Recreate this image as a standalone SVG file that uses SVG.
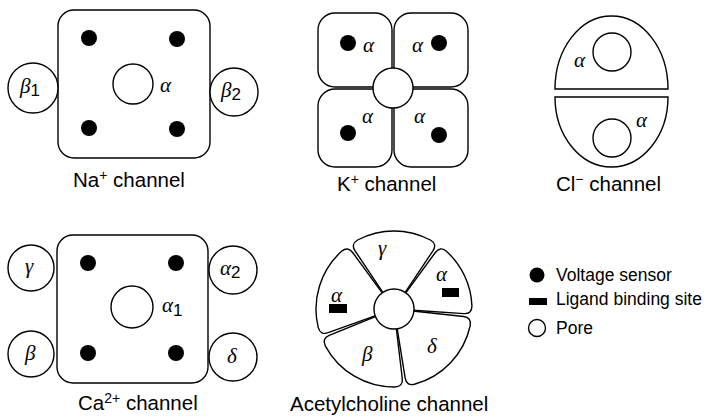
<svg xmlns="http://www.w3.org/2000/svg" width="712" height="419" viewBox="0 0 712 419">
<style>
.o{fill:#fff;stroke:#000;stroke-width:1.4}
.d{fill:#000}
.t{font-family:"Liberation Sans",Arial,sans-serif;font-size:20.5px;fill:#000}
.g{font-family:"Liberation Serif","Times New Roman",serif;font-style:italic;font-size:21px;fill:#000}
.s{font-family:"Liberation Sans",Arial,sans-serif;font-style:normal;font-size:17px}
.sup{font-size:14px}
.lg{font-family:"Liberation Sans",Arial,sans-serif;font-size:17.5px;fill:#000}
</style>
<rect width="712" height="419" fill="#fff"/>

<g id="na-channel">
<rect class="o" x="58" y="10" width="152" height="148" rx="16"/>
<circle class="o" cx="33" cy="88" r="25"/>
<circle class="o" cx="234" cy="92" r="24"/>
<circle class="d" cx="89" cy="38" r="8"/>
<circle class="d" cx="177" cy="39" r="8"/>
<circle class="d" cx="89" cy="128" r="8"/>
<circle class="d" cx="177" cy="129" r="8"/>
<circle class="o" cx="133" cy="84" r="20"/>
<text class="g" x="160" y="92">α</text>
<text class="g" x="20" y="93">β<tspan class="s" dy="3">1</tspan></text>
<text class="g" x="221" y="97">β<tspan class="s" dy="3">2</tspan></text>
<text class="t" x="73" y="187">Na<tspan class="sup" dy="-7">+</tspan><tspan dy="7"> channel</tspan></text>
</g>

<g id="k-channel">
<rect class="o" x="318" y="13" width="74" height="74" rx="17"/>
<rect class="o" x="394" y="13" width="74" height="74" rx="17"/>
<rect class="o" x="318" y="89" width="74" height="78" rx="17"/>
<rect class="o" x="394" y="89" width="74" height="78" rx="17"/>
<circle class="o" cx="393" cy="88" r="20"/>
<circle class="d" cx="348" cy="43" r="8"/>
<circle class="d" cx="439" cy="43" r="8"/>
<circle class="d" cx="348" cy="133" r="8"/>
<circle class="d" cx="439" cy="135" r="8"/>
<text class="g" x="363" y="52">α</text>
<text class="g" x="412" y="52">α</text>
<text class="g" x="362" y="123">α</text>
<text class="g" x="414" y="123">α</text>
<text class="t" x="337" y="191">K<tspan class="sup" dy="-7">+</tspan><tspan dy="7"> channel</tspan></text>
</g>

<g id="cl-channel">
<path class="o" d="M555,89 A56.5,73 0 0 1 668,89 Z"/>
<path class="o" d="M555,97 A56.5,70 0 0 0 668,97 Z"/>
<circle class="o" cx="612" cy="52" r="19"/>
<circle class="o" cx="612" cy="138" r="19"/>
<text class="g" x="574" y="67">α</text>
<text class="g" x="636" y="127">α</text>
<text class="t" x="556" y="191">Cl<tspan class="sup" dy="-7">−</tspan><tspan dy="7"> channel</tspan></text>
</g>

<g id="ca-channel">
<rect class="o" x="57" y="235" width="151" height="148" rx="16"/>
<circle class="o" cx="31" cy="268" r="23"/>
<circle class="o" cx="31" cy="354" r="23"/>
<circle class="o" cx="233" cy="270" r="24"/>
<circle class="o" cx="233" cy="357" r="24"/>
<circle class="d" cx="88" cy="263" r="8"/>
<circle class="d" cx="176" cy="263" r="8"/>
<circle class="d" cx="88" cy="353" r="8"/>
<circle class="d" cx="176" cy="353" r="8"/>
<circle class="o" cx="132" cy="307" r="21"/>
<text class="g" x="162" y="312">α<tspan class="s" dy="4">1</tspan></text>
<text class="g" x="25" y="273">γ</text>
<text class="g" x="25" y="360">β</text>
<text class="g" x="220" y="275">α<tspan class="s" dy="3">2</tspan></text>
<text class="g" x="227" y="363">δ</text>
<text class="t" x="78" y="410">Ca<tspan class="sup" dy="-7">2+</tspan><tspan dy="7"> channel</tspan></text>
</g>

<g id="acetylcholine-channel">
<path class="o" d="M387.32,299.03 L355.06,250.83 Q350.61,244.18 357.62,240 A78,78 0 0 1 430.38,240 Q437.39,244.18 432.94,250.83 L400.68,299.03 Z"/>
<path class="o" d="M401.09,299.32 L435.34,252.51 Q440.07,246.05 446.39,251.22 A78,78 0 0 1 471.94,306.01 Q471.83,314.17 463.85,313.64 L405.97,309.8 Z"/>
<path class="o" d="M405.93,310.3 L463.59,316.56 Q471.54,317.42 470.24,325.48 A78,78 0 0 1 414.45,384.27 Q406.47,386 405.19,378.1 L395.92,320.85 Z"/>
<path class="o" d="M395.42,320.92 L402.29,378.51 Q403.24,386.45 395.09,386.99 A78,78 0 0 1 325.26,345.86 Q321.78,338.47 329.19,335.45 L382.89,313.53 Z"/>
<path class="o" d="M382.71,313.06 L328.14,332.71 Q320.61,335.42 318.25,327.61 A78,78 0 0 1 341.61,251.22 Q347.93,246.06 352.66,252.51 L386.91,299.32 Z"/>
<circle class="o" cx="394" cy="309" r="20"/>
<text class="g" x="378" y="255">γ</text>
<text class="g" x="436" y="281">α</text>
<rect class="d" x="442" y="288" width="17" height="9"/>
<text class="g" x="331" y="302">α</text>
<rect class="d" x="329" y="304" width="18" height="9"/>
<text class="g" x="427" y="353">δ</text>
<text class="g" x="362" y="361">β</text>
<text class="t" x="290" y="411">Acetylcholine channel</text>
</g>

<g id="legend">
<circle class="d" cx="537" cy="275" r="7.5"/>
<text class="lg" x="556" y="281">Voltage sensor</text>
<rect class="d" x="529" y="298" width="18" height="7"/>
<text class="lg" x="556" y="305">Ligand binding site</text>
<circle class="o" cx="537" cy="328" r="8.5"/>
<text class="lg" x="556" y="334">Pore</text>
</g>
</svg>
